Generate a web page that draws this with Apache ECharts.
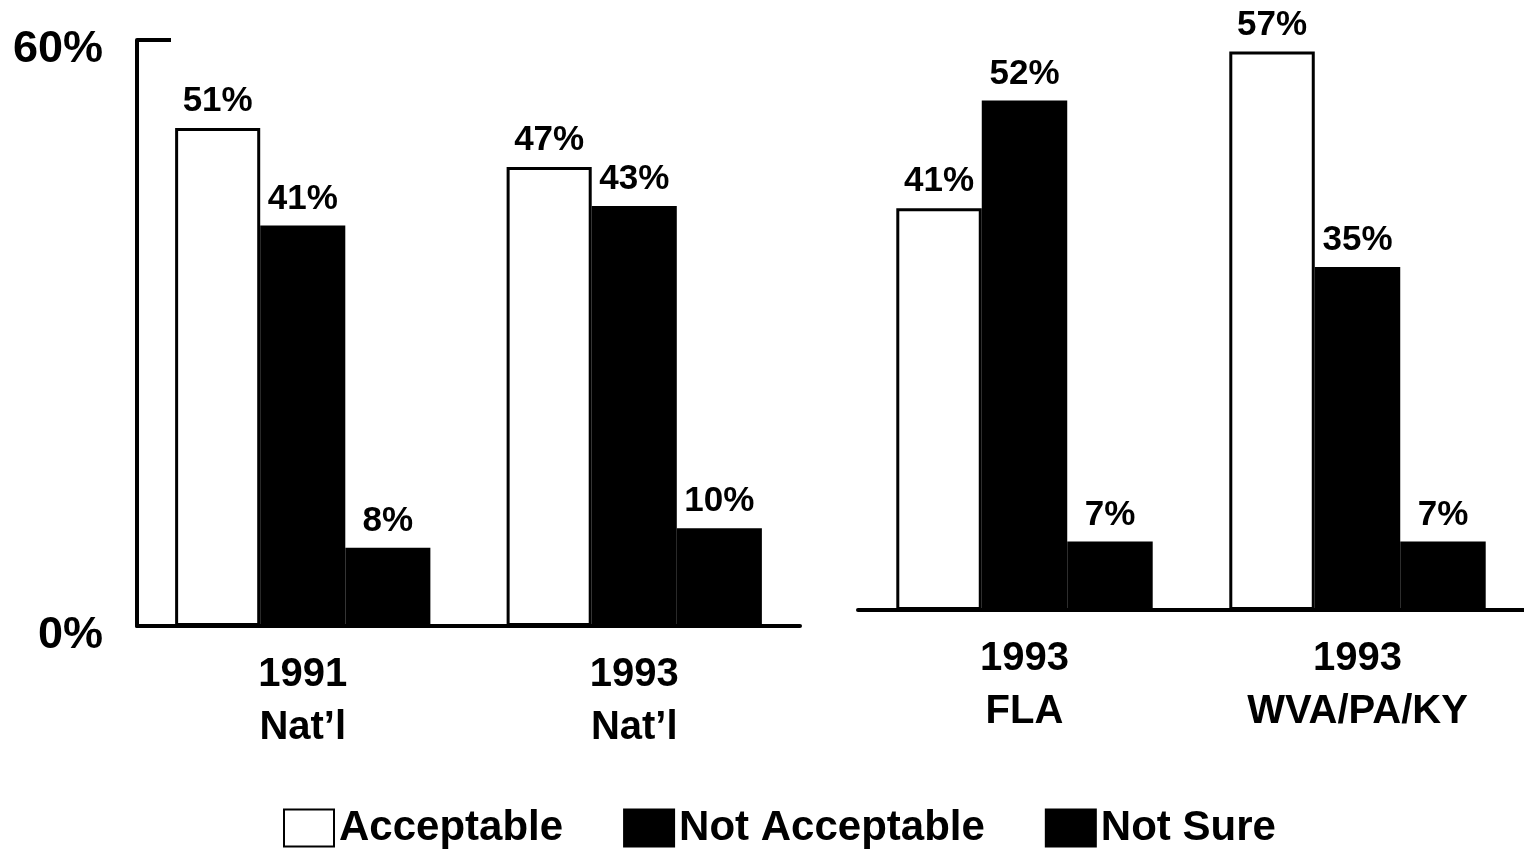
<!DOCTYPE html>
<html>
<head>
<meta charset="utf-8">
<script src="https://cdn.jsdelivr.net/npm/echarts@6/dist/echarts.min.js"></script>
<style>
html,body{margin:0;padding:0;background:#fff;}
#chart{width:1524px;height:852px;}
</style>
</head>
<body>
<div id="chart"></div>
<script>
const groupsLeft = ['1991\nNat’l', '1993\nNat’l'];
const groupsRight = ['1993\nFLA', '1993\nWVA/PA/KY'];
const acceptable = [51, 47, 41, 57];
const notAcceptable = [41, 43, 52, 35];
const notSure = [8, 10, 7, 7];
const seriesNames = ['Acceptable', 'Not Acceptable', 'Not Sure'];
const yTicks = [0, 60];

const FONT = '"Liberation Sans", Arial, sans-serif';
const chart = echarts.init(document.getElementById('chart'));

const styles = [
  { color: '#ffffff', borderColor: '#000', borderWidth: 3 },
  { color: '#000000', borderColor: '#000', borderWidth: 2 },
  { color: '#000000', borderColor: '#000', borderWidth: 2 }
];
const values = [acceptable, notAcceptable, notSure];

const series = [];
[0, 1].forEach(function (g) {
  values.forEach(function (arr, i) {
    series.push({
      type: 'bar',
      name: seriesNames[i],
      xAxisIndex: g,
      yAxisIndex: g,
      data: g === 0 ? arr.slice(0, 2) : arr.slice(2, 4),
      barGap: '0%',
      barCategoryGap: '23%',
      itemStyle: styles[i],
      label: {
        show: true,
        position: 'top',
        distance: 9,
        formatter: '{c}%',
        color: '#000',
        fontFamily: FONT,
        fontWeight: 'bold',
        fontSize: 35
      }
    });
  });
});

const xAxisCommon = {
  type: 'category',
  axisLine: { show: true, lineStyle: { color: '#000', width: 4 } },
  axisTick: { show: false },
  axisLabel: {
    color: '#000',
    fontFamily: FONT,
    fontWeight: 'bold',
    fontSize: 40,
    lineHeight: 53,
    margin: 22
  }
};

chart.setOption({
  backgroundColor: '#fff',
  animation: false,
  grid: [
    { left: 137, width: 663, top: 40, height: 586 },
    { left: 858, right: 0, top: 22, height: 588 }
  ],
  legend: {
    data: seriesNames,
    top: 802,
    left: 278,
    itemWidth: 50,
    itemHeight: 37,
    itemGap: 60,
    icon: 'rect',
    textStyle: {
      color: '#000',
      fontFamily: FONT,
      fontWeight: 'bold',
      fontSize: 42
    }
  },
  xAxis: [
    Object.assign({}, xAxisCommon, { gridIndex: 0, data: groupsLeft }),
    Object.assign({}, xAxisCommon, { gridIndex: 1, data: groupsRight })
  ],
  yAxis: [
    {
      gridIndex: 0,
      type: 'value',
      min: yTicks[0],
      max: yTicks[1],
      interval: yTicks[1] - yTicks[0],
      axisLine: { show: true, lineStyle: { color: '#000', width: 4 } },
      axisTick: { show: true, inside: true, length: 34, lineStyle: { color: '#000', width: 4 } },
      splitLine: { show: false },
      axisLabel: {
        formatter: '{value}%',
        color: '#000',
        fontFamily: FONT,
        fontWeight: 'bold',
        fontSize: 45,
        margin: 34,
        verticalAlign: 'top',
        lineHeight: 20
      }
    },
    {
      gridIndex: 1,
      type: 'value',
      min: yTicks[0],
      max: yTicks[1],
      show: false,
      splitLine: { show: false }
    }
  ],
  series: series
});
</script>
</body>
</html>
